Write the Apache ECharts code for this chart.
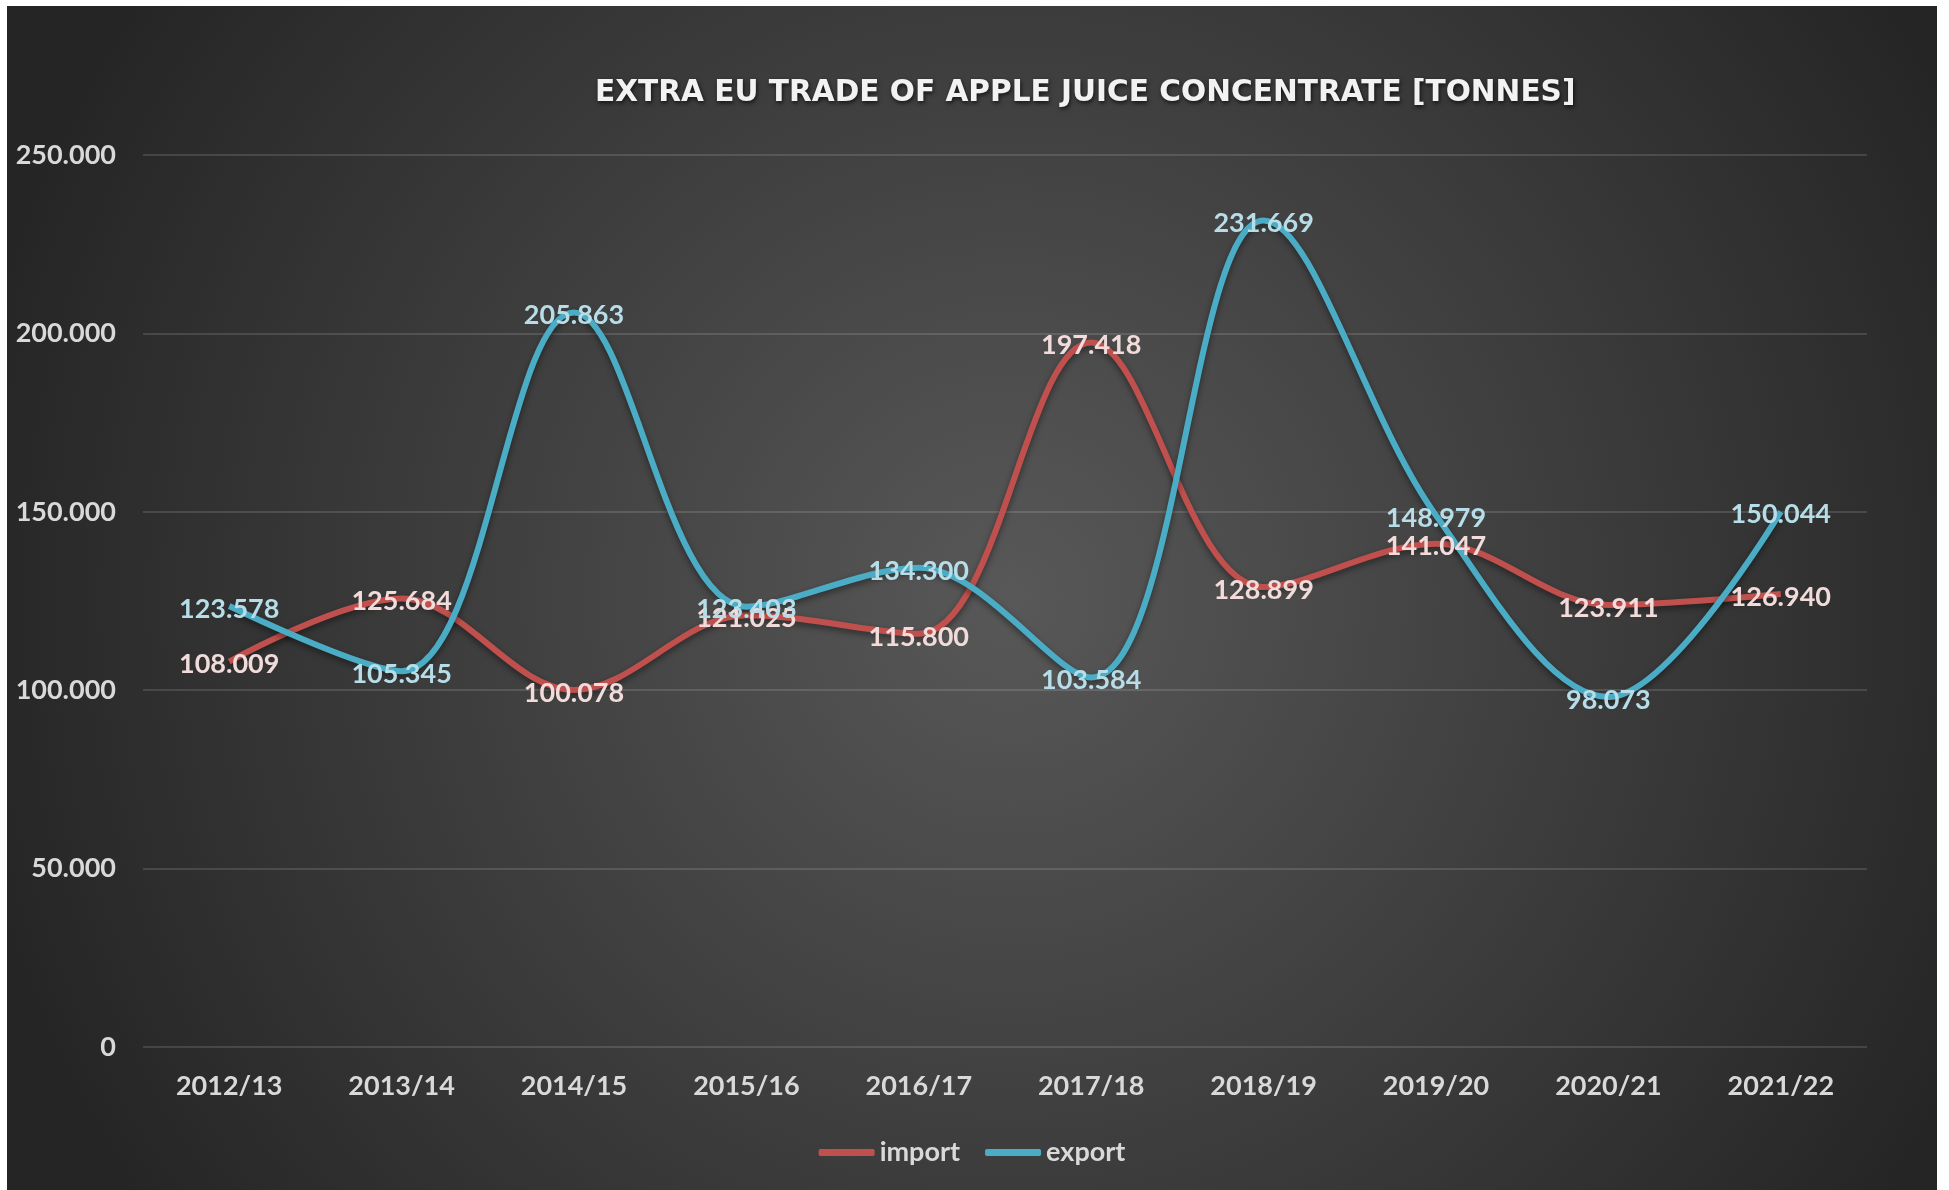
<!DOCTYPE html>
<html>
<head>
<meta charset="utf-8">
<style>
  html, body { margin: 0; padding: 0; background: #ffffff; }
  #main { position: absolute; left: 7px; top: 6px; width: 1930px; height: 1184px; }
</style>
<script src="https://cdn.jsdelivr.net/npm/echarts@6/dist/echarts.min.js"></script>
</head>
<body>
<div id="main"></div>
<script>
  // marketing years
  const categories = ['2012/13', '2013/14', '2014/15', '2015/16', '2016/17', '2017/18', '2018/19', '2019/20', '2020/21', '2021/22']
  // tonnes
  const importValues = [108009, 125684, 100078, 121025, 115800, 197418, 128899, 141047, 123911, 126940]
  const exportValues = [123578, 105345, 205863, 123403, 134300, 103584, 231669, 148979, 98073, 150044]
  const yTicks = [0, 50000, 100000, 150000, 200000, 250000]

  const FONT = 'Lato, "Noto Sans", sans-serif'

  // 108009 -> 108.009
  function fmt (v) {
    if (v === 0) return '0'
    return Math.floor(v / 1000) + '.' + String(v % 1000).padStart(3, '0')
  }

  let chart = echarts.init(document.getElementById('main'))

  let lineSeries = function (name, data, color, labelColor) {
    return {
      name: name,
      type: 'line',
      data: data,
      smooth: 0.35,
      symbol: 'circle',
      symbolSize: 0.1,
      itemStyle: { color: color },
      lineStyle: {
        width: 6,
        color: color,
        shadowColor: 'rgba(0,0,0,0.45)',
        shadowBlur: 6,
        shadowOffsetY: 3
      },
      label: {
        show: true,
        position: 'inside',
        offset: [0, 3],
        color: labelColor,
        fontFamily: FONT,
        fontWeight: 'bold',
        fontSize: 27,
        formatter: p => fmt(p.value)
      },
      emphasis: { disabled: true }
    }
  }

  let option = {
    animation: false,
    backgroundColor: {
      type: 'radial',
      x: 0.52, y: 0.5, r: 0.9,
      colorStops: [
        { offset: 0, color: '#585858' },
        { offset: 1, color: '#252525' }
      ]
    },
    title: {
      text: 'EXTRA EU TRADE OF APPLE JUICE CONCENTRATE [TONNES]',
      left: 583,
      top: 67,
      textStyle: {
        color: '#f2f2f2',
        fontFamily: '"DejaVu Sans", "Open Sans", sans-serif',
        fontWeight: 'bold',
        fontSize: 29.6,
        textShadowColor: 'rgba(0,0,0,0.7)',
        textShadowBlur: 4,
        textShadowOffsetX: 1,
        textShadowOffsetY: 2
      }
    },
    grid: {
      left: 136,
      right: 70,
      top: 149,
      bottom: 143
    },
    legend: {
      data: ['import', 'export'],
      left: 'center',
      top: 1128,
      icon: 'roundRect',
      itemWidth: 56,
      itemHeight: 7,
      itemGap: 25,
      textStyle: {
        color: '#d9d9d9',
        fontFamily: FONT,
        fontWeight: 'bold',
        fontSize: 27
      }
    },
    xAxis: {
      type: 'category',
      data: categories,
      boundaryGap: true,
      axisLine: { show: false },
      axisTick: { show: false },
      axisLabel: {
        margin: 26,
        color: '#d9d9d9',
        fontFamily: FONT,
        fontWeight: 'bold',
        fontSize: 27
      }
    },
    yAxis: {
      type: 'value',
      min: yTicks[0],
      max: yTicks[yTicks.length - 1],
      interval: yTicks[1] - yTicks[0],
      axisLine: { show: false },
      axisTick: { show: false },
      splitLine: { lineStyle: { color: 'rgba(255,255,255,0.13)', width: 2 } },
      axisLabel: {
        margin: 27,
        padding: [6, 0, 0, 0],
        color: '#d9d9d9',
        fontFamily: FONT,
        fontWeight: 'bold',
        fontSize: 27,
        formatter: fmt
      }
    },
    series: [
      lineSeries('import', importValues, '#c0504d', '#f2dcdb'),
      lineSeries('export', exportValues, '#4bacc6', '#b7dee8')
    ]
  }

  chart.setOption(option)
</script>
</body>
</html>
